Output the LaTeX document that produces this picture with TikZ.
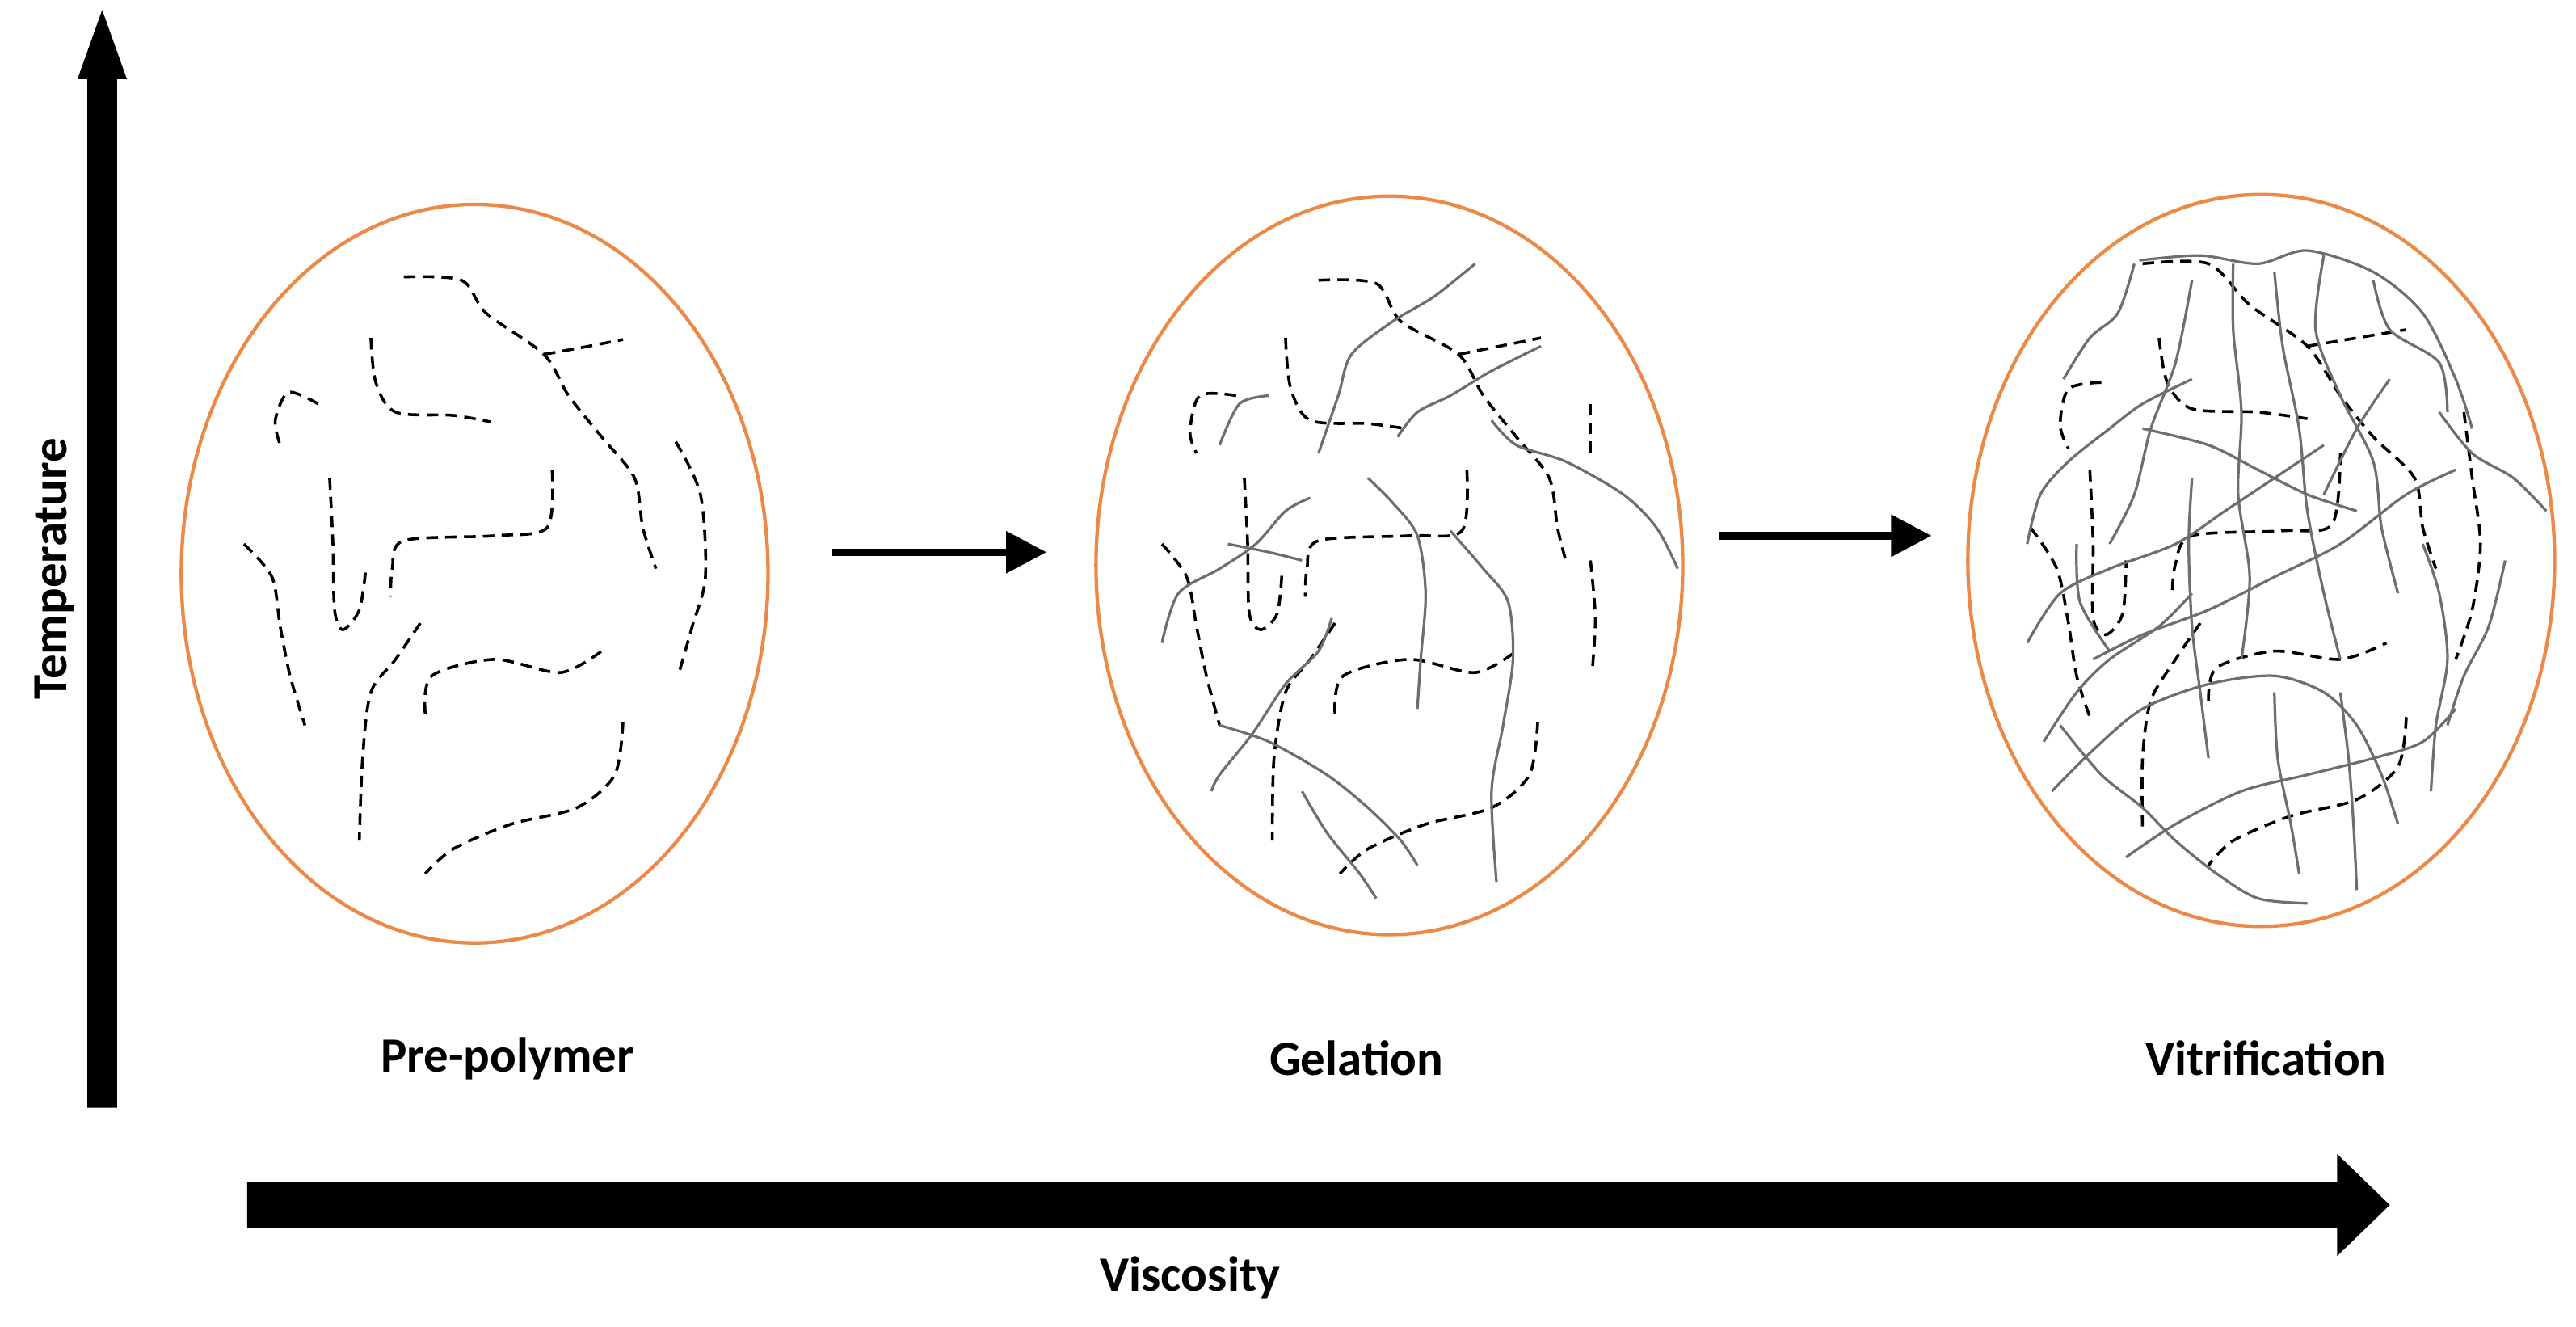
\documentclass[tikz,border=0pt]{standalone}
\usepackage{fontspec}
\setmainfont{Carlito}
\usetikzlibrary{arrows.meta}
\definecolor{orng}{RGB}{237,137,70}
\definecolor{chain}{RGB}{110,110,110}
\begin{document}
\begin{tikzpicture}[x=0.02cm,y=-0.02cm,
  lab/.style={font=\fontsize{17}{20}\selectfont\bfseries},
  ell/.style={draw=orng,line width=1.2pt},
  dch/.style={black,dashed,dash pattern=on 4pt off 2.5pt,line width=1pt},
  sch/.style={chain,line width=0.9pt},
  small/.style={line width=2.6pt,-{Triangle[length=14pt,width=14pt]}}]
\useasboundingbox (0,0) rectangle (1563,805);
% axes
\fill (53,672) -- (53,48) -- (47,48) -- (62,6) -- (77,48) -- (71,48) -- (71,672) -- cycle;
\node[lab,rotate=90] (temp) at (33,345) {Temperature};
\fill (150,717) -- (1418,717) -- (1418,700) -- (1450,731) -- (1418,762) -- (1418,745) -- (150,745) -- cycle;
\node[lab] (visc) at (722,775) {Viscosity};
% ellipses
\draw[ell] (288,348) ellipse [x radius=178, y radius=224];
\draw[ell] (843,343) ellipse [x radius=178, y radius=224];
\draw[ell] (1372,340) ellipse [x radius=178, y radius=222];
\coordinate (a1) at (505,335); \coordinate (b1) at (635,335);
\coordinate (a2) at (1043,325); \coordinate (b2) at (1172,325);
\draw[small] (a1) -- (b1);
\draw[small] (a2) -- (b2);
\node[lab] (p1) at (308,642) {Pre-polymer};
\node[lab] (p2) at (823,642) {Gelation};
\node[lab] (p3) at (1375,642) {Vitrification};
% ---- pre-polymer chains
\begin{scope}[dch]
\draw plot[smooth] coordinates {(245,168)(280,170)(295,190)(330,215)(345,240)(365,265)(385,290)(390,320)(398,345)};
\draw plot[smooth] coordinates {(330,215)(352,211)(378,206)};
\draw plot[smooth] coordinates {(225,205)(228,232)(240,250)(275,252)(298,256)};
\draw plot[smooth] coordinates {(193,245)(175,238)(167,255)(170,270)};
\draw plot[smooth] coordinates {(200,290)(202,330)(203,370)(208,382)(218,370)(222,345)};
\draw plot[smooth] coordinates {(148,330)(165,350)(170,380)(176,410)(185,440)};
\draw plot[smooth] coordinates {(335,285)(332,320)(300,325)(245,328)(238,345)(237,362)};
\draw plot[smooth] coordinates {(410,268)(425,300)(428,350)(420,380)(412,408)};
\draw plot[smooth] coordinates {(255,378)(240,400)(225,420)(220,460)(218,510)};
\draw plot[smooth] coordinates {(258,433)(262,410)(300,400)(340,408)(365,395)};
\draw plot[smooth] coordinates {(378,438)(373,470)(350,490)(310,500)(275,515)(258,530)};
\end{scope}
% ---- gelation chains
\begin{scope}[dch]
\draw plot[smooth] coordinates {(800,170)(835,172)(850,195)(885,215)(900,240)(920,265)(940,290)(945,320)(950,340)};
\draw plot[smooth] coordinates {(885,215)(910,210)(935,205)};
\draw plot[smooth] coordinates {(780,205)(783,235)(795,255)(830,257)(853,260)};
\draw plot[smooth] coordinates {(750,240)(728,240)(722,262)(726,275)};
\draw plot[smooth] coordinates {(755,290)(757,330)(758,372)(765,382)(775,372)(778,345)};
\draw plot[smooth] coordinates {(705,330)(720,350)(726,380)(732,410)(740,440)};
\draw plot[smooth] coordinates {(890,285)(887,322)(855,325)(800,328)(793,345)(792,362)};
\draw plot[smooth] coordinates {(965,245)(965,280)};
\draw plot[smooth] coordinates {(810,378)(795,400)(780,420)(773,460)(772,510)};
\draw plot[smooth] coordinates {(810,433)(815,410)(855,400)(895,408)(920,395)};
\draw plot[smooth] coordinates {(933,438)(928,470)(905,490)(865,500)(830,515)(813,530)};
\draw plot[smooth] coordinates {(965,340)(968,375)(966,408)};
\end{scope}
\begin{scope}[sch]
\draw plot[smooth] coordinates {(895,160)(870,180)(845,195)(820,215)(812,240)(800,275)};
\draw plot[smooth] coordinates {(935,210)(905,225)(880,240)(860,250)(848,265)};
\draw plot[smooth] coordinates {(740,270)(752,245)(770,240)};
\draw plot[smooth] coordinates {(905,255)(920,270)(950,280)(985,300)(1005,320)(1018,345)};
\draw plot[smooth] coordinates {(830,290)(845,305)(860,325)(865,360)(862,400)(860,430)};
\draw plot[smooth] coordinates {(705,390)(715,360)(740,345)(762,330)(780,310)(795,302)};
\draw plot[smooth] coordinates {(880,322)(900,345)(915,365)(918,400)(912,440)(905,480)(908,535)};
\draw plot[smooth] coordinates {(808,375)(800,395)(780,415)(760,445)(740,470)(735,480)};
\draw plot[smooth] coordinates {(740,440)(770,450)(805,470)(830,490)(850,510)(860,525)};
\draw plot[smooth] coordinates {(790,480)(805,505)(825,530)(835,545)};
\draw plot[smooth] coordinates {(745,330)(770,335)(790,340)};
\end{scope}
% ---- vitrification chains
\begin{scope}[dch]
\draw plot[smooth] coordinates {(1300,160)(1340,160)(1365,185)(1400,210)(1420,240)(1440,265)(1465,290)(1470,320)(1478,345)};
\draw plot[smooth] coordinates {(1400,210)(1430,205)(1460,200)};
\draw plot[smooth] coordinates {(1310,205)(1315,232)(1330,248)(1370,250)(1400,254)};
\draw plot[smooth] coordinates {(1275,232)(1255,236)(1250,258)(1255,272)};
\draw plot[smooth] coordinates {(1268,285)(1270,330)(1270,375)(1278,385)(1288,372)(1290,340)};
\draw plot[smooth] coordinates {(1232,320)(1248,345)(1255,378)(1260,410)(1268,435)};
\draw plot[smooth] coordinates {(1420,275)(1415,318)(1385,322)(1330,325)(1320,342)(1318,360)};
\draw plot[smooth] coordinates {(1495,250)(1500,290)(1505,330)(1500,370)(1490,400)};
\draw plot[smooth] coordinates {(1335,378)(1320,400)(1305,425)(1300,460)(1300,505)};
\draw plot[smooth] coordinates {(1340,425)(1345,405)(1380,395)(1420,400)(1448,390)};
\draw plot[smooth] coordinates {(1460,435)(1455,465)(1430,485)(1390,495)(1355,510)(1340,525)};
\end{scope}
\begin{scope}[sch]
\draw plot[smooth] coordinates {(1298,158)(1335,155)(1370,160)(1400,152)(1440,165)(1470,190)(1490,230)(1500,260)};
\draw plot[smooth] coordinates {(1295,160)(1285,190)(1268,205)(1252,230)};
\draw plot[smooth] coordinates {(1355,160)(1355,200)(1360,250)(1358,300)(1365,350)(1360,400)};
\draw plot[smooth] coordinates {(1380,165)(1385,210)(1395,260)(1400,310)(1410,360)(1420,400)};
\draw plot[smooth] coordinates {(1410,155)(1405,200)(1420,240)(1440,280)(1445,320)(1455,360)};
\draw plot[smooth] coordinates {(1330,170)(1320,220)(1305,260)(1295,300)(1280,330)};
\draw plot[smooth] coordinates {(1440,170)(1450,200)(1480,220)(1485,250)};
\draw plot[smooth] coordinates {(1230,330)(1238,300)(1255,280)(1280,260)(1300,245)(1330,230)};
\draw plot[smooth] coordinates {(1480,250)(1500,275)(1525,290)(1545,310)};
\draw plot[smooth] coordinates {(1230,390)(1250,360)(1280,345)(1320,330)(1350,310)(1380,290)(1410,270)};
\draw plot[smooth] coordinates {(1270,400)(1300,385)(1340,370)(1380,350)(1420,330)(1460,300)(1490,285)};
\draw plot[smooth] coordinates {(1240,450)(1260,420)(1280,400)(1310,380)(1330,360)};
\draw plot[smooth] coordinates {(1245,480)(1270,455)(1300,430)(1340,415)(1380,410)(1410,420)(1430,440)(1445,470)(1455,500)};
\draw plot[smooth] coordinates {(1250,440)(1275,470)(1300,490)(1320,510)(1345,530)(1370,545)(1400,548)};
\draw plot[smooth] coordinates {(1290,520)(1320,500)(1360,480)(1400,470)(1440,460)(1470,450)(1490,430)};
\draw plot[smooth] coordinates {(1330,290)(1328,330)(1330,380)(1335,420)(1340,460)};
\draw plot[smooth] coordinates {(1470,330)(1480,360)(1485,400)(1478,440)(1475,480)};
\draw plot[smooth] coordinates {(1520,340)(1510,380)(1495,410)(1485,440)};
\draw plot[smooth] coordinates {(1420,420)(1425,460)(1428,500)(1430,540)};
\draw plot[smooth] coordinates {(1380,420)(1382,460)(1390,500)(1395,530)};
\draw plot[smooth] coordinates {(1260,330)(1262,365)(1280,395)};
\draw plot[smooth] coordinates {(1450,230)(1430,260)(1410,300)};
\draw plot[smooth] coordinates {(1300,260)(1340,270)(1370,285)(1400,300)(1430,310)};
\end{scope}
\end{tikzpicture}
\end{document}
